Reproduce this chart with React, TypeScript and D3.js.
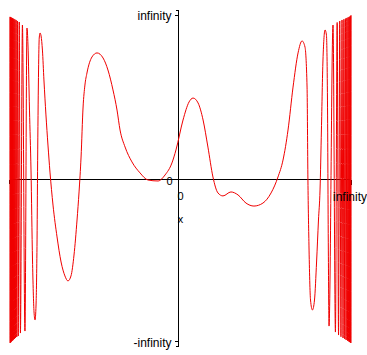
import React from 'react';
import * as d3 from 'd3';

// curve, x and y both squeezed into [-1, 1] (the "infinity" plot)
const leftEdgeX = [
  -1.0, -0.999, -0.998, -0.996, -0.994, -0.992, -0.99, -0.988, -0.986, -0.984, -0.982, -0.98, -0.977,
  -0.974, -0.971, -0.968, -0.964, -0.96, -0.956, -0.951, -0.945, -0.938, -0.926, -0.911, -0.899,
];
const leftEdgeY = [
  0.96, -0.988, 0.958, -0.984, 0.956, -0.98, 0.954, -0.976, 0.952, -0.972, 0.95, -0.968, 0.947,
  -0.964, 0.944, -0.958, 0.941, -0.952, 0.935, -0.946, 0.929, -0.928, 0.911, -0.916, 0.893,
];

const middleX = [
  -0.893, -0.884, -0.875, -0.866, -0.857, -0.851, -0.845, -0.839, -0.835, -0.83, -0.826, -0.821, -0.815, -0.807,
  -0.798, -0.786, -0.774, -0.762, -0.744, -0.72, -0.696, -0.673, -0.655, -0.637, -0.619, -0.601, -0.589, -0.577,
  -0.565, -0.554, -0.542, -0.512, -0.482, -0.446, -0.417, -0.387, -0.363, -0.345, -0.315, -0.274, -0.226, -0.179,
  -0.119, -0.077, -0.036, -0.012, 0.029, 0.064, 0.087, 0.116, 0.145, 0.173, 0.202, 0.231, 0.26, 0.306, 0.347,
  0.393, 0.439, 0.491, 0.538, 0.578, 0.607, 0.636, 0.665, 0.694, 0.717, 0.734, 0.746, 0.751, 0.757, 0.766, 0.777,
  0.789, 0.801, 0.812, 0.821, 0.829, 0.838, 0.85, 0.858, 0.864, 0.869, 0.873,
];
const middleY = [
  0.793, 0.408, 0.053, -0.488, -0.801, -0.849, -0.759, -0.367, 0.172, 0.645, 0.834, 0.864, 0.846, 0.763,
  0.586, 0.379, 0.201, 0.041, -0.157, -0.349, -0.5, -0.584, -0.614, -0.584, -0.458, -0.247, -0.078, 0.13,
  0.426, 0.556, 0.627, 0.722, 0.746, 0.716, 0.645, 0.527, 0.408, 0.29, 0.189, 0.101, 0.036, -0.006,
  -0.012, 0.024, 0.095, 0.172, 0.349, 0.456, 0.479, 0.45, 0.349, 0.189, 0.012, -0.084, -0.102, -0.078, -0.096,
  -0.145, -0.163, -0.145, -0.084, 0.012, 0.112, 0.29, 0.544, 0.746, 0.817, 0.781, 0.544, -0.006, -0.398, -0.729, -0.789,
  -0.729, -0.5, -0.247, -0.066, 0.29, 0.704, 0.882, 0.852, 0.467, -0.428, -0.886,
];

const rightEdgeX = [
  0.896, 0.91, 0.92, 0.928, 0.935, 0.942, 0.948, 0.954, 0.959, 0.964, 0.968, 0.972,
  0.976, 0.98, 0.983, 0.986, 0.989, 0.992, 0.994, 0.996, 0.998, 0.999, 1.0,
];
const rightEdgeY = [
  0.911, -0.922, 0.926, -0.94, 0.935, -0.95, 0.941, -0.958, 0.945, -0.964, 0.949, -0.97,
  0.953, -0.974, 0.956, -0.978, 0.959, -0.982, 0.962, -0.985, 0.965, -0.988, 0.97,
];

const yTickLabels = ['infinity', '0', '-infinity'];
const xTickLabels = ['0', 'infinity'];
const xAxisLabel = 'x';

const allX = [...leftEdgeX, ...middleX, ...rightEdgeX];
const allY = [...leftEdgeY, ...middleY, ...rightEdgeY];
const points: [number, number][] = allX.map((v, i) => [v, allY[i]]);

const App = () => {
  const x = d3.scaleLinear().domain([-1, 0, 1]).range([10, 178, 351]);
  const y = d3.scaleLinear().domain([-1, 0, 1]).range([345, 179, 10]);

  const line = d3.line<[number, number]>()
    .x(d => x(d[0]))
    .y(d => y(d[1]))
    .curve(d3.curveMonotoneX);

  const x0 = x(0) + 0.5;
  const y0 = y(0) + 0.5;
  const font = { fontFamily: '"Liberation Sans", Arial, sans-serif', fontSize: '12px', fill: '#000' };

  return (
    <svg width={367} height={355}
      style={{ position: 'fixed', left: 0, top: 0, backgroundColor: 'white' }}>
      {/* axes */}
      <g stroke="black" strokeWidth={1} fill="none" shapeRendering="crispEdges">
        <line x1={x(-1)} x2={x(1)} y1={y0} y2={y0} />
        <line x1={x0} x2={x0} y1={y(1)} y2={y(-1) + 2} />
        {/* little end ticks */}
        <line x1={x0 - 3} x2={x0} y1={y(1) + 0.5} y2={y(1) + 0.5} />
        <line x1={x0 - 4} x2={x0} y1={y(1) + 5.5} y2={y(1) + 5.5} />
        <line x1={x0 - 4} x2={x0} y1={y(-1) - 3.5} y2={y(-1) - 3.5} />
        <line x1={x0 - 3} x2={x0} y1={y(-1) + 1.5} y2={y(-1) + 1.5} />
        <line x1={x(-1) - 0.5} x2={x(-1) - 0.5} y1={y0} y2={y0 + 4} />
        <line x1={x(1) + 0.5} x2={x(1) + 0.5} y1={y0} y2={y0 + 5} />
      </g>

      <path d={line(points) ?? ''} fill="none" stroke="#f00000" strokeWidth={1} />

      {/* tick labels */}
      <text x={x0 - 7} y={y(1) + 10} textAnchor="end" style={font}>{yTickLabels[0]}</text>
      <text x={x0 - 6} y={y0 + 5} textAnchor="end" style={{ ...font, fontSize: '11px' }}>{yTickLabels[1]}</text>
      <text x={x0 - 7} y={y(-1) + 2} textAnchor="end" style={font}>{yTickLabels[2]}</text>
      <text x={x0 + 2} y={y0 + 20} textAnchor="middle" style={{ ...font, fontSize: '11px' }}>{xTickLabels[0]}</text>
      <text x={x(1) - 18} y={y0 + 21} textAnchor="start" style={font}>{xTickLabels[1]}</text>
      <text x={x0 + 2} y={y0 + 43} textAnchor="middle" style={{ ...font, fontSize: '11px' }}>{xAxisLabel}</text>
    </svg>
  );
};

export default App;
